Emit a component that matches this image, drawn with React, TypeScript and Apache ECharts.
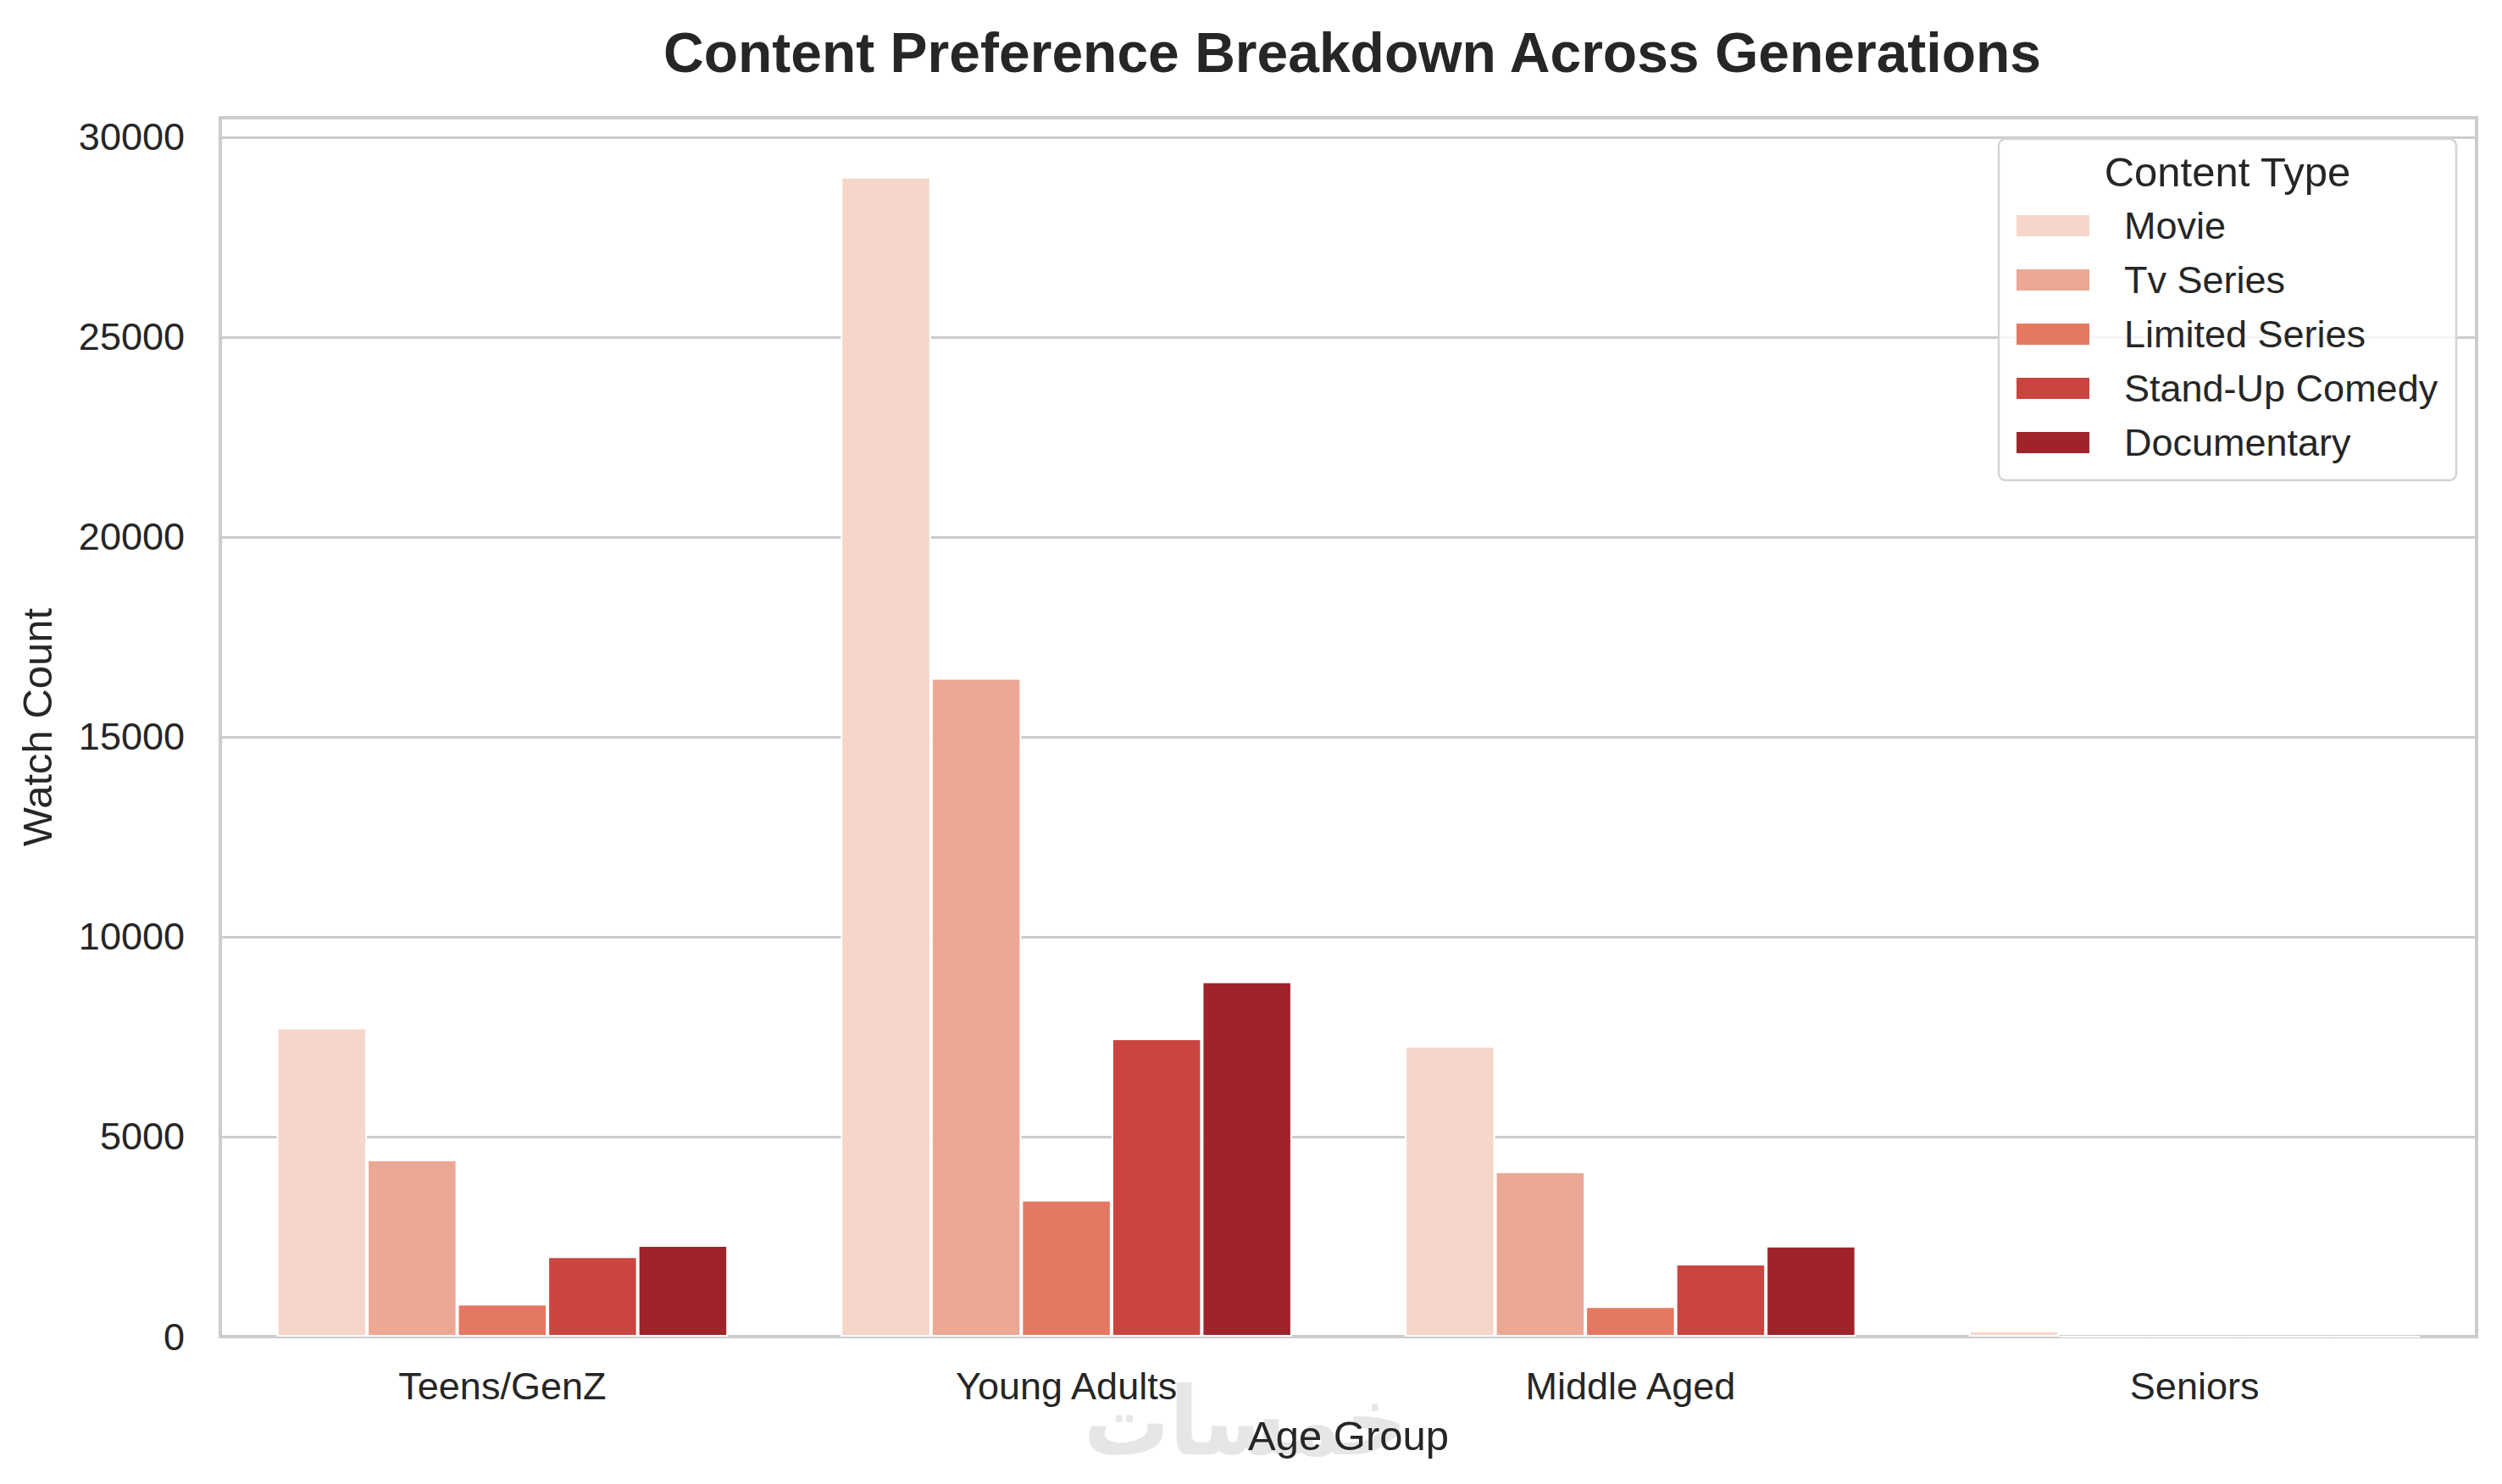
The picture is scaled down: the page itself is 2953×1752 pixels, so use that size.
import React, { useEffect, useRef } from "react";
import * as echarts from "echarts";

const ageGroups = ["Teens/GenZ", "Young Adults", "Middle Aged", "Seniors"];
const contentTypes = ["Movie", "Tv Series", "Limited Series", "Stand-Up Comedy", "Documentary"];
const movieCounts = [7730, 29010, 7270, 150];
const tvSeriesCounts = [4430, 16470, 4130, 0];
const limitedSeriesCounts = [820, 3420, 760, 0];
const standUpCounts = [2010, 7460, 1820, 0];
const documentaryCounts = [2290, 8880, 2270, 0];
const palette = ["#f6d6ca", "#eca894", "#e47862", "#cb4540", "#9e242a"];
const yTicks = [0, 5000, 10000, 15000, 20000, 25000, 30000];

const FONT = "'Liberation Sans', Arial, Helvetica, sans-serif";
const TEXT = "#262626";

export default function App() {
  const ref = useRef<HTMLDivElement>(null);
  useEffect(() => {
    document.body.style.margin = "0";
    const chart = echarts.init(ref.current as HTMLDivElement, undefined, { renderer: "svg" });
    const seriesValues = [movieCounts, tvSeriesCounts, limitedSeriesCounts, standUpCounts, documentaryCounts];
    chart.setOption({
      animation: false,
      backgroundColor: "#ffffff",
      textStyle: { fontFamily: FONT },
      title: {
        text: "Content Preference Breakdown Across Generations",
        left: 1591,
        top: 24,
        textAlign: "center",
        textStyle: { fontFamily: FONT, fontSize: 66, fontWeight: "bold", color: TEXT },
      },
      grid: {
        left: 260,
        right: 30,
        top: 139,
        bottom: 174,
        show: true,
        borderColor: "#cccccc",
        borderWidth: 4,
        backgroundColor: "transparent",
      },
      legend: {
        orient: "vertical",
        left: 2378,
        top: 244,
        padding: 0,
        itemWidth: 88,
        itemHeight: 27,
        itemGap: 19,
        icon: "rect",
        z: 6,
        data: contentTypes,
        textStyle: { fontFamily: FONT, fontSize: 45, color: TEXT, padding: [0, 0, 0, 35] },
      },
      graphic: [
        {
          type: "rect",
          z: 5,
          shape: { x: 2359, y: 164, width: 540, height: 403, r: 8 },
          style: { fill: "rgba(255,255,255,0.8)", stroke: "#d4d4d4", lineWidth: 2.5 },
        },
        {
          type: "text",
          z: 6,
          x: 2629,
          y: 203,
          style: {
            text: "Content Type",
            fontFamily: FONT,
            fontSize: 49,
            fill: TEXT,
            align: "center",
            verticalAlign: "middle",
          },
        },
        {
          type: "text",
          z: 0,
          x: 1470,
          y: 1678,
          scaleX: 0.9,
          style: {
            text: "خمسات",
            fontFamily: "'DejaVu Sans', sans-serif",
            fontSize: 112,
            fontWeight: "bold",
            fill: "#e6e6e6",
            align: "center",
            verticalAlign: "middle",
          },
        },
      ],
      xAxis: {
        type: "category",
        data: ageGroups,
        name: "Age Group",
        nameLocation: "middle",
        nameGap: 92,
        nameTextStyle: { fontFamily: FONT, fontSize: 49, color: TEXT },
        axisLine: { show: false },
        axisTick: { show: false },
        axisLabel: { fontFamily: FONT, fontSize: 45, color: TEXT, margin: 36 },
        splitLine: { show: false },
      },
      yAxis: {
        type: "value",
        min: 0,
        max: 30487,
        interval: 5000,
        name: "Watch Count",
        nameLocation: "middle",
        nameRotate: 90,
        nameGap: 192,
        nameTextStyle: { fontFamily: FONT, fontSize: 49, color: TEXT },
        axisLine: { show: false },
        axisTick: { show: false },
        axisLabel: {
          fontFamily: FONT,
          fontSize: 45,
          color: TEXT,
          margin: 42,
          formatter: (v: number) => (yTicks.includes(v) ? String(v) : ""),
        },
        splitLine: { show: true, lineStyle: { color: "#cccccc", width: 3 } },
      },
      series: contentTypes.map((name, i) => ({
        name,
        type: "bar",
        data: seriesValues[i],
        barGap: "0%",
        barCategoryGap: "20%",
        itemStyle: { color: palette[i], borderColor: "#ffffff", borderWidth: 2 },
      })),
    });
    return () => chart.dispose();
  }, []);
  return <div ref={ref} style={{ width: 2953, height: 1752 }} />;
}
